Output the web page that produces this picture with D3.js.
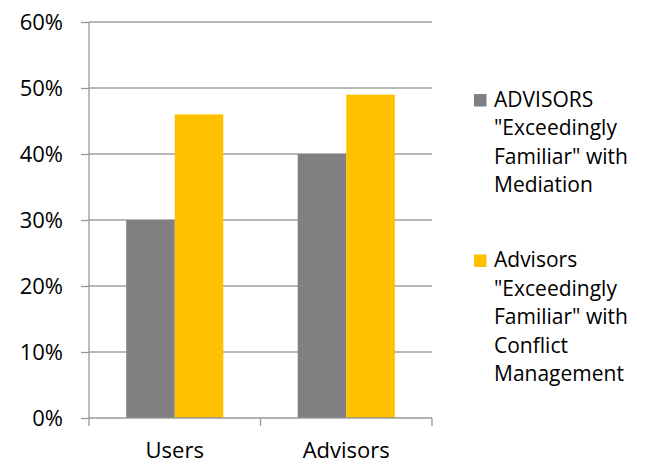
<!DOCTYPE HTML>
<html lang="en">
<head>
    <meta charset="UTF-8">
    <style>
        body { margin: 0; background: #fff; }
        text { font-family: "Open Sans", sans-serif; fill: #000; }
    </style>
</head>
<body>
    <div id="chart"></div>
    <script src="https://cdn.jsdelivr.net/npm/d3@7"></script>
    <script>
        var categories = ["Users", "Advisors"];
        var seriesNames = [
            ["ADVISORS", "\"Exceedingly", "Familiar\" with", "Mediation"],
            ["Advisors", "\"Exceedingly", "Familiar\" with", "Conflict", "Management"]
        ];
        var mediation = [0.30, 0.40];
        var conflict = [0.46, 0.49];
        var yTicks = [0, 0.1, 0.2, 0.3, 0.4, 0.5, 0.6];
        var colors = ["#808080", "#FFC000"];

        var width = 654, height = 469,
            plot = {left: 89, right: 432, top: 22, bottom: 418},
            fontSize = "22px";

        var svg = d3.select("#chart").append("svg")
            .attr("width", width)
            .attr("height", height);

        var x = d3.scaleBand().domain(categories).range([plot.left, plot.right]);
        var xs = d3.scaleBand().domain([0, 1]).range([0, x.bandwidth()]).paddingOuter(0.766);
        var y = d3.scaleLinear().domain([0, 0.6]).range([plot.bottom, plot.top]);

        // gridlines
        svg.append("g").selectAll("line")
            .data(yTicks.slice(1))
            .enter().append("line")
            .attr("x1", plot.left).attr("x2", plot.right)
            .attr("y1", function(d){ return y(d); })
            .attr("y2", function(d){ return y(d); })
            .style("stroke", "#a0a0a0")
            .style("stroke-width", 1.3);

        var data = [];
        categories.forEach(function(c, i) {
            data.push({cat: c, s: 0, v: mediation[i]});
            data.push({cat: c, s: 1, v: conflict[i]});
        });

        svg.append("g").selectAll("rect")
            .data(data)
            .enter().append("rect")
            .attr("x", function(d){ return x(d.cat) + xs(d.s); })
            .attr("width", xs.bandwidth())
            .attr("y", function(d){ return y(d.v); })
            .attr("height", function(d){ return y(0) - y(d.v); })
            .style("fill", function(d){ return colors[d.s]; });

        // y axis
        var yAxis = svg.append("g")
            .attr("transform", "translate(" + plot.left + ",0)")
            .call(d3.axisLeft(y).tickValues(yTicks).tickFormat(d3.format(".0%")).tickSize(8).tickPadding(18));
        yAxis.select(".domain").attr("d", "M0," + plot.top + "V" + plot.bottom);
        yAxis.selectAll("line, .domain").style("stroke", "#989898").style("stroke-width", 1.3);
        yAxis.selectAll("text").style("font-size", fontSize).style("font-family", "Open Sans, sans-serif").style("fill", "#000");

        // x axis
        var xAxis = svg.append("g")
            .attr("transform", "translate(0," + plot.bottom + ")")
            .call(d3.axisBottom(x).tickSize(0).tickPadding(24));
        xAxis.select(".domain").remove();
        xAxis.append("line")
            .attr("x1", plot.left).attr("x2", plot.right)
            .style("stroke", "#989898").style("stroke-width", 1.3);
        xAxis.selectAll(".sep")
            .data(d3.range(categories.length + 1))
            .enter().append("line")
            .attr("class", "sep")
            .attr("x1", function(i){ return plot.left + i * x.step(); })
            .attr("x2", function(i){ return plot.left + i * x.step(); })
            .attr("y1", 0).attr("y2", 8)
            .style("stroke", "#989898").style("stroke-width", 1.3);
        xAxis.selectAll("text").style("font-size", fontSize).style("font-family", "Open Sans, sans-serif").style("fill", "#000");

        // legend
        var lineH = 28.4;
        var legendTop = [99.5, 260];
        var legend = svg.append("g").selectAll("g")
            .data(seriesNames)
            .enter().append("g")
            .attr("transform", function(d, i){ return "translate(474," + legendTop[i] + ")"; });
        legend.append("rect")
            .attr("x", 0).attr("y", -5.5)
            .attr("width", 12.5).attr("height", 12.5)
            .style("fill", function(d, i){ return colors[i]; });
        legend.append("text")
            .style("font-size", "21px")
            .selectAll("tspan")
            .data(function(d){ return d; })
            .enter().append("tspan")
            .attr("x", 20)
            .attr("y", function(d, i){ return i * lineH; })
            .attr("dy", "0.35em")
            .text(function(d){ return d; });
    </script>
</body>
</html>
